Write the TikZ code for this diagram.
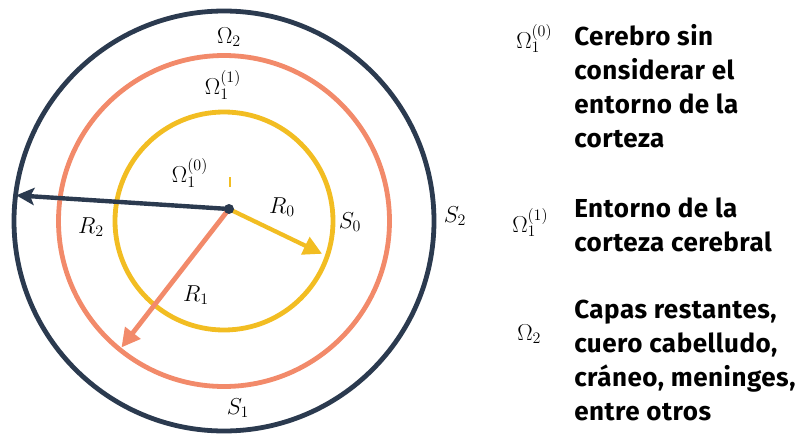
\documentclass[tikz,border=0pt]{standalone}
\usepackage{fontspec}
\newfontfamily\notefont[LetterSpace=2]{Fira Sans}
\usetikzlibrary{arrows.meta,positioning}
\definecolor{navy}{HTML}{2B3A4F}
\definecolor{salmon}{HTML}{F28A6A}
\definecolor{gold}{HTML}{F2BD22}

\begin{document}
\begin{tikzpicture}[
    x=0.75pt, y=-0.75pt,
    ring/.style={draw=#1, circle, line width=3.6pt, inner sep=0pt},
    ray/.style={draw=#1, line width=3.2pt, -{Triangle[length=14pt, width=14pt]}},
    lbl/.style={font=\fontsize{18}{21}\selectfont, inner sep=1pt},
    note/.style={font=\notefont\bfseries\fontsize{19.5}{25.5}\selectfont, align=left, anchor=north west, inner sep=0pt}
]
\useasboundingbox (0,0) rectangle (801,436);

\coordinate (c) at (224,221);
\node[ring=navy, minimum size=315pt] (s2) at (c) {};
\node[ring=salmon, minimum size=248.25pt] (s1) at (c) {};
\node[ring=gold, minimum size=163.5pt] (s0) at (c) {};

\coordinate (o) at (229,209);
\draw[ray=navy, line width=3.3pt, -{Stealth[length=13.5pt, width=13pt, inset=3pt]}, shorten >=2.3pt] (o) -- (s2.173);
\draw[ray=salmon, line width=3.6pt, shorten >=3.8pt] (o) -- (s1.231.3);
\draw[ray=gold, shorten >=6pt] (o) -- (s0.-19.3);
\fill[navy] (o) circle (5);
\draw[gold, line width=0.8pt] (230,177) -- (230,187);

\node[lbl] (om2) at (229,37) {$\Omega_2$};
\node[lbl] (om11) at (223,85) {$\Omega_1^{(1)}$};
\node[lbl] (om10) at (190,173) {$\Omega_1^{(0)}$};
\node[lbl] (r0) at (282,207) {$R_0$};
\node[lbl] (r1) at (196,295) {$R_1$};
\node[lbl] (r2) at (91,227) {$R_2$};
\node[lbl] (l0) at (350,222) {$S_0$};
\node[lbl] (l1) at (238,408) {$S_1$};
\node[lbl] (l2) at (455,216) {$S_2$};

\node[lbl, anchor=base west, inner sep=0pt] (sym0) at (516,48) {$\Omega_1^{(0)}$};
\node[lbl, anchor=base west, inner sep=0pt] (sym1) at (512,232) {$\Omega_1^{(1)}$};
\node[lbl, anchor=base west, inner sep=0pt] (sym2) at (517,340) {$\Omega_2$};

\node[note] (desc0) at (574,21) {\strut Cerebro sin\\considerar el\\entorno de la\\corteza};
\node[note] (desc1) at (574,193) {\strut Entorno de la\\corteza cerebral};
\node[note] (desc2) at (574,294) {\strut Capas restantes,\\cuero cabelludo,\\cráneo, meninges,\\entre otros};
\end{tikzpicture}
\end{document}
